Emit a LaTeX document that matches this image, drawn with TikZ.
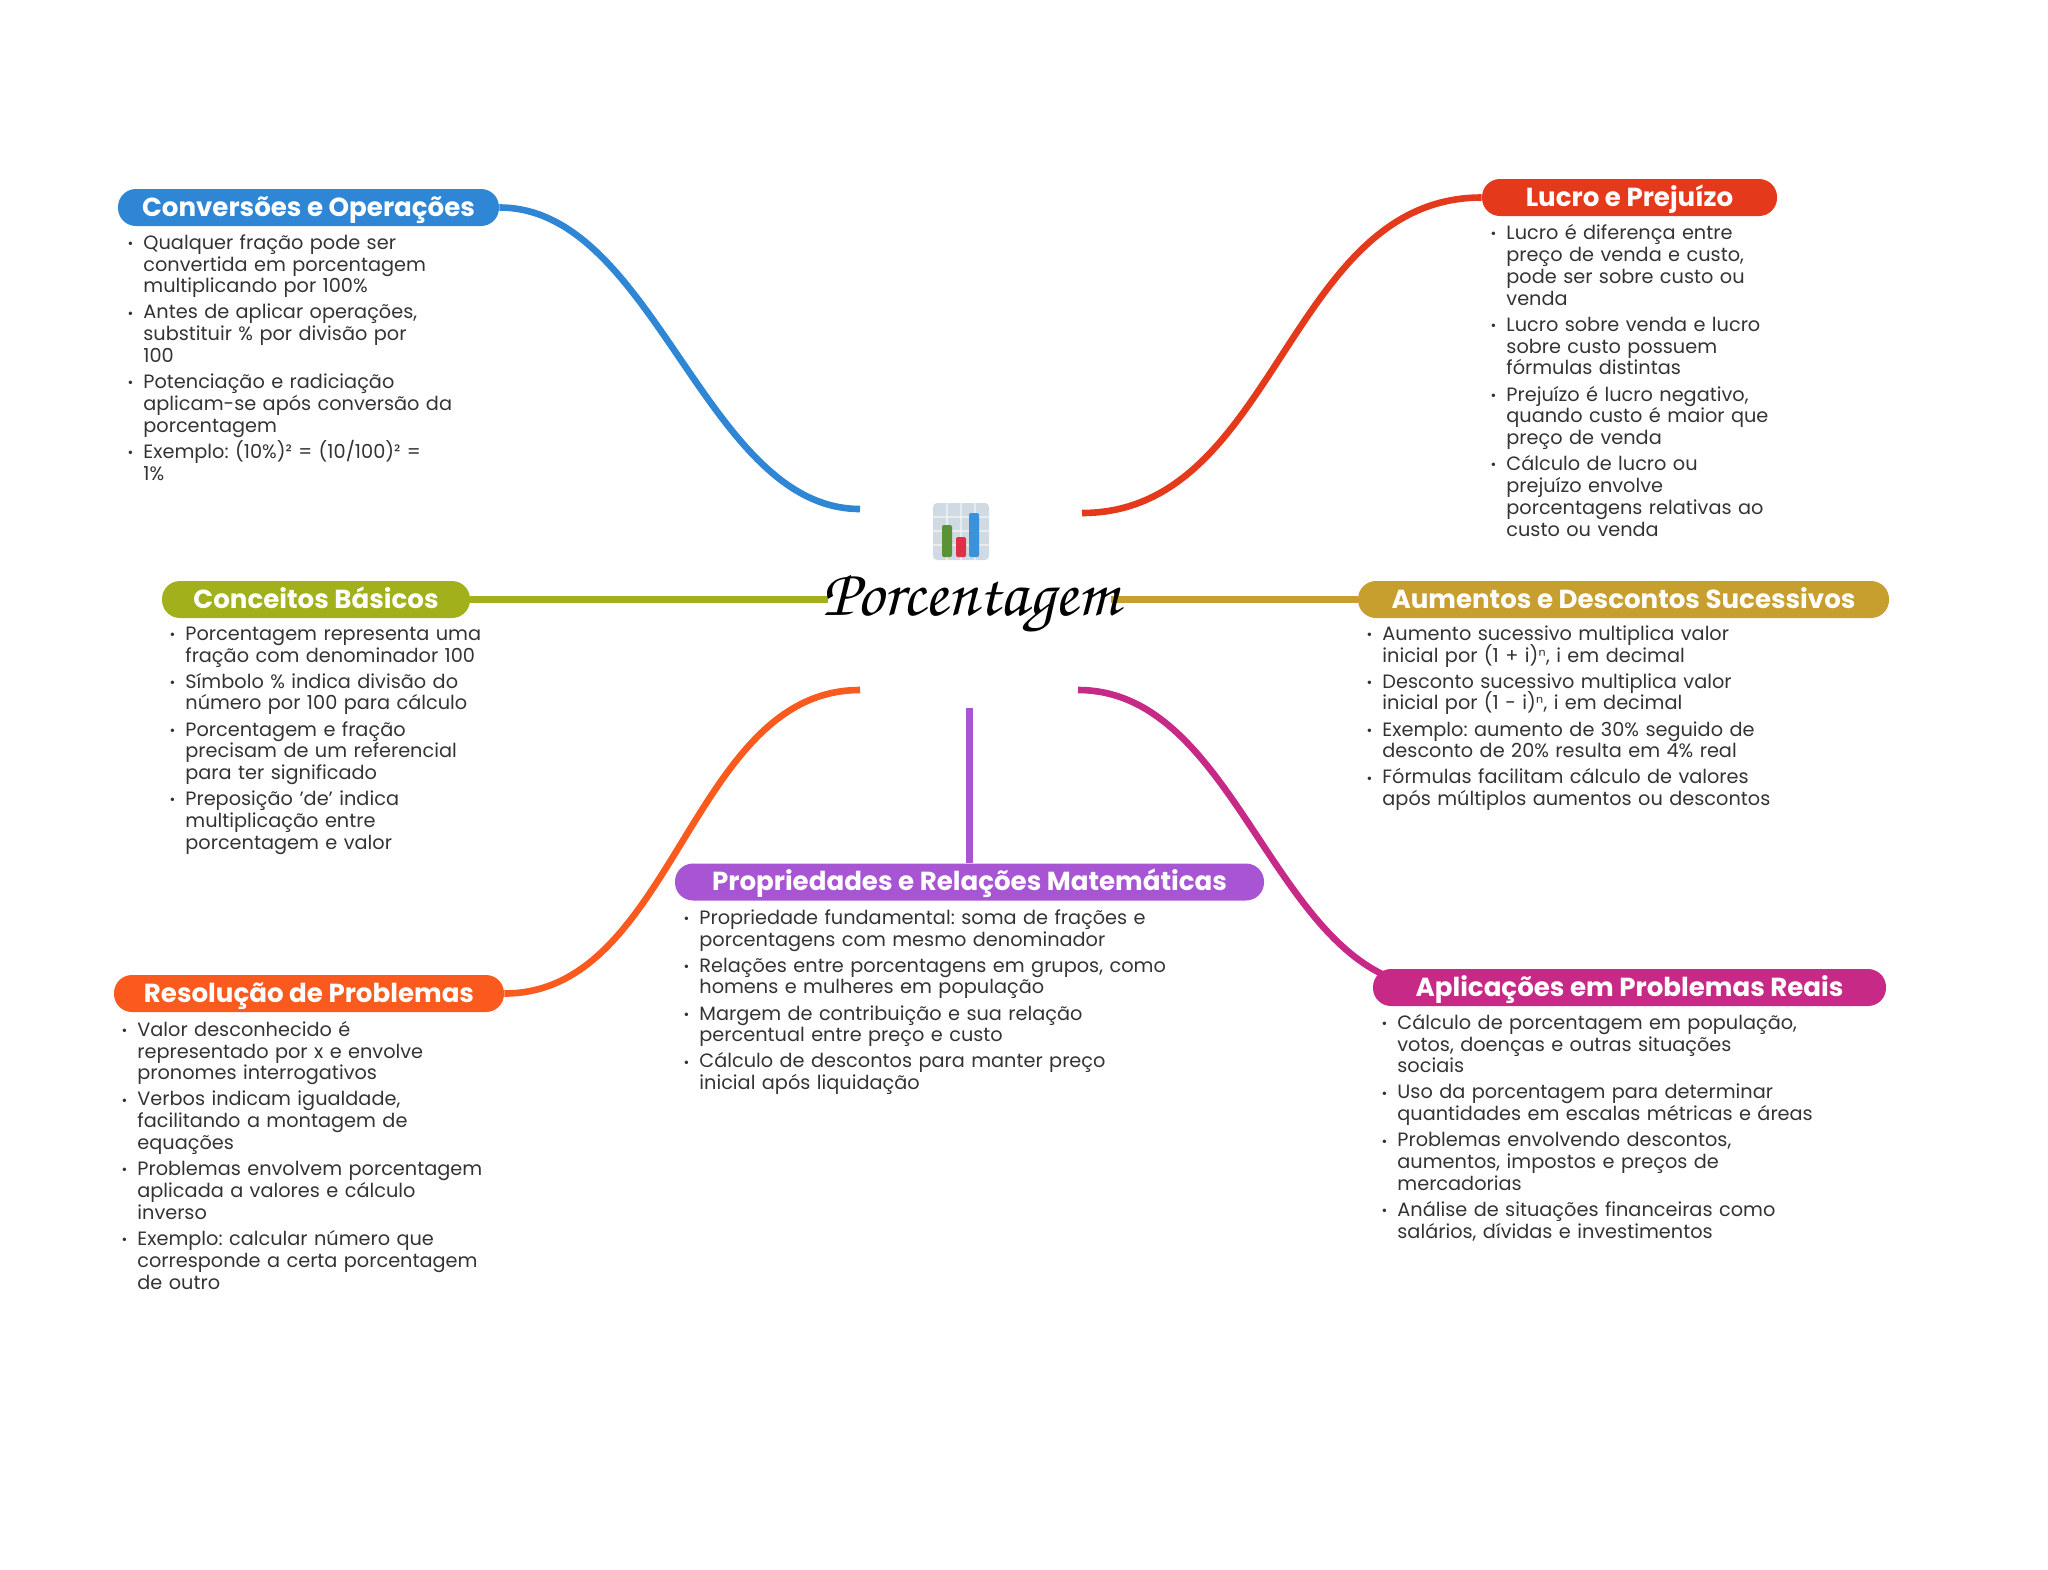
\documentclass[tikz,border=0pt]{standalone}
\usepackage{fontspec}
\setmainfont{Poppins}
\newfontfamily\dejavu{DejaVu Sans}
\newfontfamily\chorus{TeX Gyre Chorus}
\usepackage{xcolor}
\usetikzlibrary{positioning,backgrounds}

\definecolor{azul}{HTML}{2E86D5}
\definecolor{vermelho}{HTML}{E5391B}
\definecolor{oliva}{HTML}{A2B01B}
\definecolor{ouro}{HTML}{C79F2E}
\definecolor{laranja}{HTML}{FA5A1E}
\definecolor{roxo}{HTML}{A855D4}
\definecolor{magenta}{HTML}{C72A86}
\definecolor{texto}{HTML}{333333}
\definecolor{grade}{HTML}{D0DAE3}
\definecolor{barraverde}{HTML}{5A9236}
\definecolor{barravermelha}{HTML}{E02F48}
\definecolor{barraazul}{HTML}{3A92DC}

\newenvironment{topicos}{\begin{list}{\raisebox{0.4pt}{\fontsize{7}{7}\selectfont\textbullet}}{%
  \setlength{\leftmargin}{8pt}\setlength{\labelwidth}{4pt}\setlength{\labelsep}{5pt}%
  \setlength{\itemsep}{2.1pt}\setlength{\parsep}{0pt}\setlength{\topsep}{0pt}%
  \setlength{\partopsep}{0pt}\setlength{\itemindent}{0pt}}\frenchspacing\lineskiplimit=-8pt}{\end{list}}
\newcommand{\supn}{{\dejavu\fontsize{9.5}{9.5}\selectfont ⁿ}}

\tikzset{
  pill/.style={fill=#1,text=white,rounded corners=9pt,minimum height=18.5pt,inner sep=0pt,
    text height=11.3pt,text depth=2.5pt,font=\fontsize{13.05}{13}\selectfont\bfseries},
  ramo/.style={draw=#1,line width=3.3pt},
  lista/.style={anchor=north west,inner sep=0pt,text width=260pt,text=texto,
    font=\fontsize{9.65}{10.92}\selectfont},
}

\begin{document}
\begin{tikzpicture}[x=0.5pt,y=-0.5pt]
\useasboundingbox (0,0) rectangle (2048,1569);

% icone central
\fill[grade,rounded corners=2pt] (933,503) rectangle (989,560);
\foreach \gx in {947,961,975} \draw[white,opacity=.5,line width=1pt] (\gx,503) -- (\gx,560);
\foreach \gy in {517,531,545} \draw[white,opacity=.5,line width=1pt] (933,\gy) -- (989,\gy);
\fill[barraverde,rounded corners=1pt] (942,525) rectangle (952,557);
\fill[barravermelha,rounded corners=1pt] (956,537) rectangle (966,557);
\fill[barraazul,rounded corners=1pt] (969,513) rectangle (979,557);

\node[inner sep=0pt] (porcentagem) at (971,604) {\chorus\fontsize{33.5}{33.5}\selectfont Porcentagem};

\node[pill=azul,minimum width=190.5pt] (conversoes) at (308.5,207.5) {Conversões e Operações};
\node[pill=vermelho,minimum width=147.5pt] (lucro) at (1629.5,197.5) {Lucro e Prejuízo};
\node[pill=oliva,minimum width=154pt] (conceitos) at (316,599.5) {Conceitos Básicos};
\node[pill=ouro,minimum width=265.5pt] (aumentos) at (1623.5,599.5) {Aumentos e Descontos Sucessivos};
\node[pill=roxo,minimum width=294.5pt] (propriedades) at (969.5,882) {Propriedades e Relações Matemáticas};
\node[pill=laranja,minimum width=195pt] (resolucao) at (309,993.5) {Resolução de Problemas};
\node[pill=magenta,minimum width=256.5pt] (aplicacoes) at (1629.5,987.5) {Aplicações em Problemas Reais};

\coordinate (fimazul) at (860,509);
\coordinate (fimvermelho) at (1082,513);
\coordinate (fimoliva) at (828,599.5);
\coordinate (fimouro) at (1111,599.5);
\coordinate (fimlaranja) at (860,690);
\coordinate (fimroxo) at (969.5,708);
\coordinate (fimmagenta) at (1078,690);

\begin{scope}[on background layer]
\draw[ramo=azul] (conversoes.east) .. controls +(155,0) and +(-155,0) .. (fimazul);
\draw[ramo=vermelho] (fimvermelho) .. controls +(195,0) and +(-195,0) .. (lucro.west);
\draw[ramo=oliva] (conceitos.east) -- (fimoliva);
\draw[ramo=ouro] (fimouro) -- (aumentos.west);
\draw[ramo=laranja] (resolucao.east) .. controls +(170,0) and +(-170,0) .. (fimlaranja);
\draw[ramo=roxo] (fimroxo) -- (propriedades.north);
\draw[ramo=magenta] (fimmagenta) .. controls +(165,0) and +(-165,0) .. ([xshift=33.5pt]aplicacoes.west);
\end{scope}

\node[lista] (listaconversoes) at (127,227) {\begin{topicos}
\item Qualquer fração pode ser\\convertida em porcentagem\\multiplicando por 100\%
\item Antes de aplicar operações,\\substituir \% por divisão por\\100
\item Potenciação e radiciação\\aplicam-se após conversão da\\porcentagem
\item Exemplo: (10\%)² = (10/100)² =\\1\%
\end{topicos}};

\node[lista] (listalucro) at (1490,217.5) {\begin{topicos}
\item Lucro é diferença entre\\preço de venda e custo,\\pode ser sobre custo ou\\venda
\item Lucro sobre venda e lucro\\sobre custo possuem\\fórmulas distintas
\item Prejuízo é lucro negativo,\\quando custo é maior que\\preço de venda
\item Cálculo de lucro ou\\prejuízo envolve\\porcentagens relativas ao\\custo ou venda
\end{topicos}};

\node[lista] (listaconceitos) at (169,618) {\begin{topicos}
\item Porcentagem representa uma\\fração com denominador 100
\item Símbolo \% indica divisão do\\número por 100 para cálculo
\item Porcentagem e fração\\precisam de um referencial\\para ter significado
\item Preposição 'de' indica\\multiplicação entre\\porcentagem e valor
\end{topicos}};

\node[lista] (listaaumentos) at (1366,618) {\begin{topicos}
\item Aumento sucessivo multiplica valor\\inicial por (1 + i)\supn, i em decimal
\item Desconto sucessivo multiplica valor\\inicial por (1 - i)\supn, i em decimal
\item Exemplo: aumento de 30\% seguido de\\desconto de 20\% resulta em 4\% real
\item Fórmulas facilitam cálculo de valores\\após múltiplos aumentos ou descontos
\end{topicos}};

\node[lista] (listapropriedades) at (683,902) {\begin{topicos}
\item Propriedade fundamental: soma de frações e\\porcentagens com mesmo denominador
\item Relações entre porcentagens em grupos, como\\homens e mulheres em população
\item Margem de contribuição e sua relação\\percentual entre preço e custo
\item Cálculo de descontos para manter preço\\inicial após liquidação
\end{topicos}};

\node[lista] (listaresolucao) at (121,1014) {\begin{topicos}
\item Valor desconhecido é\\representado por x e envolve\\pronomes interrogativos
\item Verbos indicam igualdade,\\facilitando a montagem de\\equações
\item Problemas envolvem porcentagem\\aplicada a valores e cálculo\\inverso
\item Exemplo: calcular número que\\corresponde a certa porcentagem\\de outro
\end{topicos}};

\node[lista] (listaaplicacoes) at (1381,1007) {\begin{topicos}
\item Cálculo de porcentagem em população,\\votos, doenças e outras situações\\sociais
\item Uso da porcentagem para determinar\\quantidades em escalas métricas e áreas
\item Problemas envolvendo descontos,\\aumentos, impostos e preços de\\mercadorias
\item Análise de situações financeiras como\\salários, dívidas e investimentos
\end{topicos}};
\end{tikzpicture}
\end{document}
